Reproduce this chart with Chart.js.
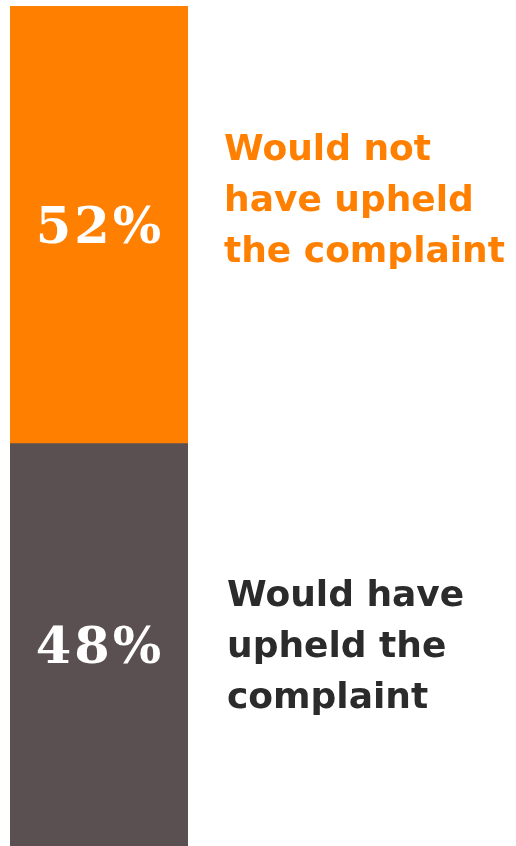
<!DOCTYPE html>
<html>
<head>
<meta charset="utf-8">
<script src="https://cdn.jsdelivr.net/npm/chart.js@4"></script>
<style>
  html, body { margin: 0; padding: 0; background: #ffffff; }
  #wrap { width: 516px; height: 846px; position: relative; }
</style>
</head>
<body>
<div id="wrap"><canvas id="c" width="516" height="846"></canvas></div>
<script>
// Share of responses, stacked top to bottom
const categories = ['Responses'];
const seriesNames = ['Would not have upheld the complaint', 'Would have upheld the complaint'];
const seriesValues = [52, 48];
const seriesLabelLines = [
  ['Would not', 'have upheld', 'the complaint'],
  ['Would have', 'upheld the', 'complaint']
];
const seriesColors = ['#FF7F00', '#5A5051'];
const textColors = ['#FF8000', '#2B2B2B'];

// Percent figures inside each segment and wrapped captions to the right
const segmentLabels = {
  id: 'segmentLabels',
  afterDatasetsDraw(chart) {
    const ctx = chart.ctx;
    const area = chart.chartArea;
    const captionOffsets = [-23, 3];
    chart.data.datasets.forEach((ds, i) => {
      const bar = chart.getDatasetMeta(i).data[0];
      const top = Math.min(bar.y, bar.base);
      const bottom = Math.max(bar.y, bar.base);
      const cy = (top + bottom) / 2;
      ctx.save();
      ctx.fillStyle = '#FFFFFF';
      ctx.font = 'bold 51px "DejaVu Serif"';
      ctx.textAlign = 'center';
      ctx.textBaseline = 'middle';
      ctx.letterSpacing = '3px';
      ctx.fillText(ds.data[0] + '%', bar.x + 1, cy + 5);
      ctx.restore();

      const lines = seriesLabelLines[i];
      const lh = 51;
      const startY = cy + captionOffsets[i] - (lines.length - 1) * lh / 2;
      const x = area.right + 36 + (i === 1 ? 3 : 0);
      ctx.save();
      ctx.fillStyle = textColors[i];
      ctx.font = 'bold 36px "DejaVu Sans"';
      ctx.textAlign = 'left';
      ctx.textBaseline = 'middle';
      lines.forEach((t, k) => {
        ctx.fillText(t, x, startY + k * lh);
      });
      ctx.restore();
    });
  }
};

new Chart(document.getElementById('c'), {
  type: 'bar',
  data: {
    labels: categories,
    datasets: seriesNames.map((name, i) => ({
      label: name,
      data: [seriesValues[i]],
      backgroundColor: seriesColors[i],
      borderWidth: 0,
      barPercentage: 1,
      categoryPercentage: 1
    }))
  },
  options: {
    responsive: false,
    animation: false,
    layout: { padding: { left: 10, right: 328, top: 6, bottom: 0 } },
    plugins: { legend: { display: false }, tooltip: { enabled: false } },
    scales: {
      x: { stacked: true, display: false },
      y: { stacked: true, display: false, min: 0, max: 100, reverse: true }
    }
  },
  plugins: [segmentLabels]
});
</script>
</body>
</html>
